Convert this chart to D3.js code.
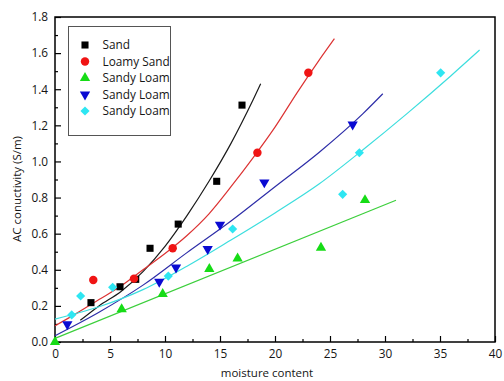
<!DOCTYPE html>
<html>
<head>
<meta charset="utf-8">
<script src="https://cdn.jsdelivr.net/npm/d3@7"></script>
<style>
  html, body { margin: 0; padding: 0; background: #fff; }
  svg { display: block; font-family: "Open Sans", "Noto Sans", sans-serif; }
</style>
</head>
<body>
<svg id="chart" width="504" height="381"></svg>
<script>
// Measured points: moisture content vs AC conductivity (S/m)
const sandX = [3.27, 5.91, 7.34, 8.64, 11.2, 14.7, 17.0];
const sandY = [0.218, 0.306, 0.347, 0.519, 0.653, 0.89, 1.312];

const loamySandX = [3.48, 7.18, 10.7, 18.4, 23.03];
const loamySandY = [0.343, 0.351, 0.519, 1.048, 1.491];

const sandyLoamAX = [0, 6.06, 9.79, 14.03, 16.6, 24.18, 28.18];
const sandyLoamAY = [0.0, 0.181, 0.266, 0.404, 0.463, 0.522, 0.786];

const sandyLoamBX = [1.12, 9.48, 11.0, 13.88, 15.0, 19.03, 27.06];
const sandyLoamBY = [0.098, 0.334, 0.413, 0.515, 0.65, 0.884, 1.205];

const sandyLoamCX = [1.52, 2.33, 5.24, 10.3, 16.15, 26.15, 27.67, 35.06];
const sandyLoamCY = [0.15, 0.255, 0.303, 0.365, 0.626, 0.818, 1.048, 1.491];

// Fitted trend curves
const sandFitX = [2.3, 4, 6, 8, 10, 12, 14, 16, 18, 18.7];
const sandFitY = [0.12, 0.2, 0.28, 0.39, 0.53, 0.70, 0.89, 1.10, 1.34, 1.43];

const loamySandFitX = [0, 2, 4, 6, 8, 10, 12, 14, 16, 18, 20, 22, 24, 25.4];
const loamySandFitY = [0.09, 0.16, 0.235, 0.31, 0.40, 0.49, 0.59, 0.71, 0.86, 1.02, 1.19, 1.38, 1.56, 1.68];

const sandyLoamAFitX = [0, 31];
const sandyLoamAFitY = [0.02, 0.785];

const sandyLoamBFitX = [0, 4, 8, 12, 16, 20, 24, 28, 29.8];
const sandyLoamBFitY = [0.035, 0.165, 0.315, 0.495, 0.67, 0.86, 1.05, 1.265, 1.375];

const sandyLoamCFitX = [0, 4, 8, 12, 16, 20, 24, 28, 32, 36, 38.6];
const sandyLoamCFitY = [0.127, 0.195, 0.29, 0.42, 0.565, 0.715, 0.875, 1.065, 1.265, 1.475, 1.617];

// Axis ticks
const xMajorTicks = [0, 5, 10, 15, 20, 25, 30, 35, 40];
const xMinorTicks = [2.5, 7.5, 12.5, 17.5, 22.5, 27.5, 32.5, 37.5];
const yMajorTicks = [0.0, 0.2, 0.4, 0.6, 0.8, 1.0, 1.2, 1.4, 1.6, 1.8];
const yMinorTicks = [0.1, 0.3, 0.5, 0.7, 0.9, 1.1, 1.3, 1.5, 1.7];

const seriesNames = ["Sand", "Loamy Sand", "Sandy Loam", "Sandy Loam", "Sandy Loam"];

const series = [
  { name: seriesNames[0], xs: sandX, ys: sandY, fx: sandFitX, fy: sandFitY,
    marker: "#000000", line: "#1a1a1a", shape: d3.symbolSquare, size: 50, rot: 0 },
  { name: seriesNames[1], xs: loamySandX, ys: loamySandY, fx: loamySandFitX, fy: loamySandFitY,
    marker: "#f01414", line: "#dc3232", shape: d3.symbolCircle, size: 56, rot: 0 },
  { name: seriesNames[2], xs: sandyLoamAX, ys: sandyLoamAY, fx: sandyLoamAFitX, fy: sandyLoamAFitY,
    marker: "#16dc16", line: "#3ccf3c", shape: d3.symbolTriangle, size: 46, rot: 0 },
  { name: seriesNames[3], xs: sandyLoamBX, ys: sandyLoamBY, fx: sandyLoamBFitX, fy: sandyLoamBFitY,
    marker: "#0a0ad2", line: "#2d2da8", shape: d3.symbolTriangle, size: 46, rot: 180 },
  { name: seriesNames[4], xs: sandyLoamCX, ys: sandyLoamCY, fx: sandyLoamCFitX, fy: sandyLoamCFitY,
    marker: "#2ee6f2", line: "#3cdede", shape: d3.symbolSquare, size: 42, rot: 45 }
];

const textColor = "#151515";
const svg = d3.select("#chart");
const plotLeft = 55, plotRight = 495, plotTop = 17, plotBottom = 342;

const x = d3.scaleLinear().domain([0, 40]).range([plotLeft, plotRight]);
const y = d3.scaleLinear().domain([0, 1.8]).range([plotBottom, plotTop]);

// Minor ticks (inward)
svg.append("g")
  .attr("transform", `translate(0,${plotBottom})`)
  .call(d3.axisBottom(x).tickValues(xMinorTicks).tickFormat("").tickSize(-3).tickSizeOuter(0))
  .call(g => g.select(".domain").remove())
  .call(g => g.selectAll("line").attr("stroke", "#000").attr("stroke-width", 1.2));

svg.append("g")
  .attr("transform", `translate(${plotLeft},0)`)
  .call(d3.axisLeft(y).tickValues(yMinorTicks).tickFormat("").tickSize(-3).tickSizeOuter(0))
  .call(g => g.select(".domain").remove())
  .call(g => g.selectAll("line").attr("stroke", "#000").attr("stroke-width", 1.2));

// Major ticks and labels
svg.append("g")
  .attr("transform", `translate(0,${plotBottom})`)
  .call(d3.axisBottom(x).tickValues(xMajorTicks).tickFormat(d3.format("d")).tickSize(-6).tickSizeOuter(0).tickPadding(8))
  .call(g => g.select(".domain").remove())
  .call(g => g.selectAll("line").attr("stroke", "#000").attr("stroke-width", 1.2))
  .call(g => g.selectAll("text").attr("font-size", 11.8).attr("fill", textColor)
    .attr("font-family", "'Open Sans', 'Noto Sans', sans-serif"));

svg.append("g")
  .attr("transform", `translate(${plotLeft},0)`)
  .call(d3.axisLeft(y).tickValues(yMajorTicks).tickFormat(d3.format(".1f")).tickSize(-6).tickSizeOuter(0).tickPadding(7))
  .call(g => g.select(".domain").remove())
  .call(g => g.selectAll("line").attr("stroke", "#000").attr("stroke-width", 1.2))
  .call(g => g.selectAll("text").attr("font-size", 11.8).attr("fill", textColor)
    .attr("font-family", "'Open Sans', 'Noto Sans', sans-serif"));

// Plot frame
svg.append("rect")
  .attr("x", plotLeft).attr("y", plotTop)
  .attr("width", plotRight - plotLeft).attr("height", plotBottom - plotTop)
  .attr("fill", "none").attr("stroke", "#000").attr("stroke-width", 1.5);

// Fitted curves
const line = d3.line().x(d => x(d[0])).y(d => y(d[1])).curve(d3.curveMonotoneX);
svg.append("g").selectAll("path")
  .data(series)
  .join("path")
  .attr("d", s => line(s.fx.map((v, i) => [v, s.fy[i]])))
  .attr("fill", "none")
  .attr("stroke", s => s.line)
  .attr("stroke-width", 1.2);

// Markers
const markers = svg.append("g");
series.forEach(s => {
  const sym = d3.symbol().type(s.shape).size(s.size);
  markers.append("g").selectAll("path")
    .data(s.xs.map((v, i) => [v, s.ys[i]]))
    .join("path")
    .attr("d", sym)
    .attr("transform", d => `translate(${x(d[0])},${y(d[1])}) rotate(${s.rot})`)
    .attr("fill", s.marker);
});

// Legend
const legend = svg.append("g");
legend.append("rect")
  .attr("x", 68.5).attr("y", 26.5).attr("width", 102).attr("height", 109)
  .attr("fill", "#fff").attr("stroke", "#555").attr("stroke-width", 1);

const rowY = [45, 61.5, 78, 94.5, 111];
series.forEach((s, i) => {
  const sym = d3.symbol().type(s.shape).size(s.size);
  legend.append("path")
    .attr("d", sym)
    .attr("transform", `translate(85,${rowY[i]}) rotate(${s.rot})`)
    .attr("fill", s.marker);
  legend.append("text")
    .attr("x", 102.5).attr("y", rowY[i])
    .attr("dy", "0.35em")
    .attr("font-size", 11.8)
    .attr("fill", textColor)
    .text(s.name);
});

// Axis titles
svg.append("text")
  .attr("x", 267).attr("y", 377)
  .attr("text-anchor", "middle")
  .attr("font-size", 11.5)
  .attr("fill", textColor)
  .text("moisture content");

svg.append("text")
  .attr("transform", "translate(21,189) rotate(-90)")
  .attr("text-anchor", "middle")
  .attr("font-size", 11.5)
  .attr("fill", textColor)
  .text("AC conuctivity (S/m)");
</script>
</body>
</html>
